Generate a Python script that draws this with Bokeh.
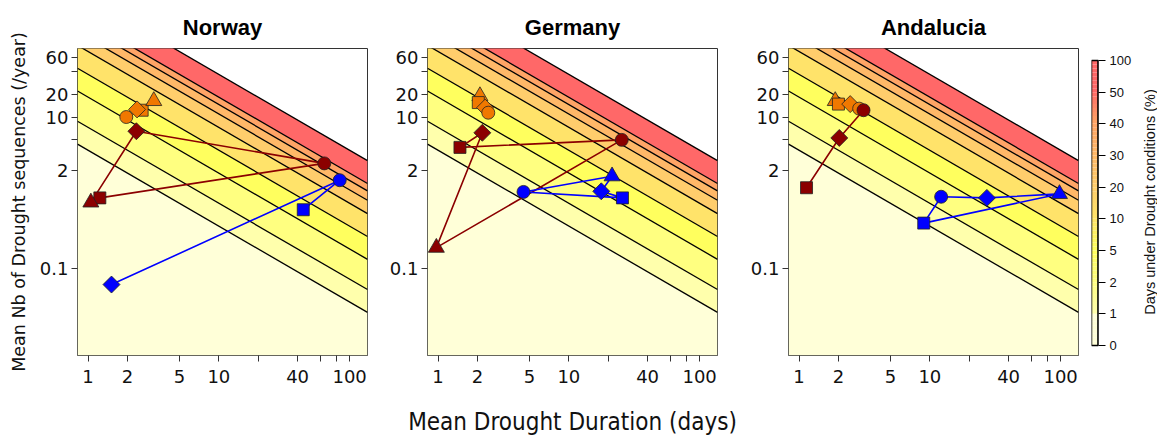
import math
from bokeh.plotting import figure
from bokeh.layouts import row
from bokeh.models import Range1d, FixedTicker, ColumnDataSource
from bokeh.core.properties import value
from bokeh.embed import file_html
from bokeh.resources import INLINE

# ---------------- data ----------------
regions = ["Norway", "Germany", "Andalucia"]
levels = [0, 1, 2, 5, 10, 20, 30, 40, 50, 100]          # % of days under drought
band_colors = ["#FFFFD8", "#FFFFAC", "#FFFF80", "#FFFF5E", "#FFE36A",
               "#FFCD6C", "#FFB868", "#FFA466", "#FF6868"]
x_ticks = [1, 2, 5, 10, 20, 40, 60, 80, 100]
x_tick_labels = ["1", "2", "5", "10", "", "40", "", "", "100"]
y_ticks = [0.1, 2, 5, 10, 20, 40, 60]
y_tick_labels = ["0.1", "2", "", "10", "20", "", "60"]
x_label = "Mean Drought Duration (days)"
y_label = "Mean Nb of Drought sequences (/year)"
cbar_title = "Days under Drought conditions (%)"

# series: points in the order they are joined
norway_orange_x = [1.96, 2.59, 2.37, 3.18]
norway_orange_y = [10.0, 12.3, 12.6, 16.3]
norway_orange_m = ["circle", "square", "diamond", "triangle"]
norway_red_x = [2.34, 64.0, 1.23, 1.05]
norway_red_y = [6.5, 2.45, 0.86, 0.75]
norway_red_m = ["diamond", "circle", "square", "triangle"]
norway_blue_x = [1.51, 84.0, 44.2]
norway_blue_y = [0.062, 1.47, 0.60]
norway_blue_m = ["diamond", "circle", "square"]

germany_orange_x = [2.09, 2.03, 2.29, 2.42]
germany_orange_y = [18.9, 15.5, 13.3, 11.4]
germany_orange_m = ["triangle", "square", "diamond", "circle"]
germany_red_x = [25.4, 1.47, 2.18, 0.97]
germany_red_y = [5.0, 3.98, 6.2, 0.19]
germany_red_m = ["circle", "square", "diamond", "triangle"]
germany_blue_x = [4.5, 25.7, 17.7, 21.4]
germany_blue_y = [1.03, 0.86, 1.05, 1.66]
germany_blue_m = ["circle", "square", "diamond", "triangle"]

andalucia_orange_x = [1.89, 2.0, 2.46, 2.88]
andalucia_orange_y = [16.3, 14.8, 14.8, 12.9]
andalucia_orange_m = ["triangle", "square", "diamond", "circle"]
andalucia_red_x = [1.14, 2.03, 3.11]
andalucia_red_y = [1.17, 5.3, 12.3]
andalucia_red_m = ["square", "diamond", "circle"]
andalucia_blue_x = [12.2, 27.3, 98.0, 8.98]
andalucia_blue_y = [0.89, 0.86, 0.97, 0.40]
andalucia_blue_m = ["circle", "diamond", "triangle", "square"]

series = {
    "Norway": [(norway_orange_x, norway_orange_y, norway_orange_m, "#F07800", False),
               (norway_red_x, norway_red_y, norway_red_m, "#8B0000", True),
               (norway_blue_x, norway_blue_y, norway_blue_m, "#0000FF", False)],
    "Germany": [(germany_orange_x, germany_orange_y, germany_orange_m, "#F07800", False),
                (germany_red_x, germany_red_y, germany_red_m, "#8B0000", True),
                (germany_blue_x, germany_blue_y, germany_blue_m, "#0000FF", True)],
    "Andalucia": [(andalucia_orange_x, andalucia_orange_y, andalucia_orange_m, "#F07800", False),
                  (andalucia_red_x, andalucia_red_y, andalucia_red_m, "#8B0000", False),
                  (andalucia_blue_x, andalucia_blue_y, andalucia_blue_m, "#0000FF", True)],
}

DAYS_PER_PCT = 365.0 / 100.0
# diamonds are drawn as squares turned by 45 degrees
marker_glyph = {"circle": "circle", "square": "square", "diamond": "square", "triangle": "triangle"}
marker_size = {"circle": 13, "square": 12, "diamond": 12, "triangle": 16}
marker_angle = {"circle": 0.0, "square": 0.0, "diamond": math.pi / 4, "triangle": 0.0}

TICK_FONT = "DejaVu Sans"
X_MIN, X_MAX = 0.83, 137.0
Y_MIN, Y_MAX = 0.0072, 80.0
TOP, FRAME_H, BOTTOM = 48, 307, 81


def make_panel(name, left_border, right_border, with_ylabel, with_xlabel):
    p = figure(x_axis_type="log", y_axis_type="log",
               x_range=Range1d(X_MIN, X_MAX), y_range=Range1d(Y_MIN, Y_MAX),
               frame_width=290, frame_height=FRAME_H,
               min_border_left=left_border, min_border_right=right_border,
               min_border_top=TOP, min_border_bottom=BOTTOM,
               output_backend="svg", toolbar_location=None, title=name)
    p.title.align = "center"
    p.title.text_font = "Liberation Sans"
    p.title.text_font_style = "bold"
    p.title.text_font_size = "22px"
    p.title.text_color = "black"
    p.title.standoff = 18
    p.grid.visible = False
    p.background_fill_color = "white"
    p.border_fill_color = "white"
    p.outline_line_color = "#333333"
    p.outline_line_width = 1

    xe = [X_MIN, X_MAX]
    for i in range(len(levels) - 1):
        lo, hi = levels[i], levels[i + 1]
        y1 = [lo * DAYS_PER_PCT / x if lo > 0 else Y_MIN for x in xe]
        y2 = [hi * DAYS_PER_PCT / x for x in xe]
        p.varea(x=xe, y1=y1, y2=y2, fill_color=band_colors[i])
    lv = levels[1:]
    p.segment(x0=[X_MIN] * len(lv), y0=[l * DAYS_PER_PCT / X_MIN for l in lv],
              x1=[X_MAX] * len(lv), y1=[l * DAYS_PER_PCT / X_MAX for l in lv],
              line_color="black", line_width=1.3)

    for xs, ys, ms, col, closed in series[name]:
        lx = xs + ([xs[0]] if closed else [])
        ly = ys + ([ys[0]] if closed else [])
        p.line(lx, ly, line_color=col, line_width=1.6)
        src = ColumnDataSource(dict(x=xs, y=ys,
                                    marker=[marker_glyph[m] for m in ms],
                                    size=[marker_size[m] for m in ms],
                                    angle=[marker_angle[m] for m in ms]))
        p.scatter(x="x", y="y", marker="marker", size="size", angle="angle", source=src,
                  fill_color=col, line_color="#222222", line_width=0.8)

    for ax, ticks, labels in ((p.xaxis, x_ticks, x_tick_labels),
                              (p.yaxis, y_ticks, y_tick_labels)):
        ax.ticker = FixedTicker(ticks=ticks, minor_ticks=[])
        ax.major_label_overrides = {t: l for t, l in zip(ticks, labels)}
        ax.major_label_text_font = TICK_FONT
        ax.major_label_text_font_size = "18px"
        ax.major_label_text_color = "#111111"
        ax.axis_line_color = None
        ax.major_tick_in = 0
        ax.major_tick_out = 6
        ax.major_tick_line_color = "#333333"
        ax.minor_tick_line_color = None
    p.xaxis.major_label_standoff = 8
    p.yaxis.major_label_standoff = 3
    if with_ylabel:
        p.yaxis.axis_label = y_label
        p.yaxis.axis_label_text_font = TICK_FONT
        p.yaxis.axis_label_text_font_style = "normal"
        p.yaxis.axis_label_text_font_size = "17.5px"
        p.yaxis.axis_label_standoff = 8
        p.yaxis.axis_label_text_color = "#111111"
    if with_xlabel:
        p.xaxis.axis_label = x_label
        p.xaxis.axis_label_text_font = "DejaVu Sans Condensed, Liberation Sans"
        p.xaxis.axis_label_text_font_style = "normal"
        p.xaxis.axis_label_text_font_size = "24px"
        p.xaxis.axis_label_standoff = 22
        p.xaxis.axis_label_text_color = "#111111"
    return p


p1 = make_panel("Norway", 77, 5, True, False)
p2 = make_panel("Germany", 55, 29, False, True)
p3 = make_panel("Andalucia", 42, 5, False, False)


def hex_to_rgb(h):
    return tuple(int(h[i:i + 2], 16) for i in (1, 3, 5))


def mix(c1, c2, t):
    a, b = hex_to_rgb(c1), hex_to_rgb(c2)
    return "#%02X%02X%02X" % tuple(round(a[k] + (b[k] - a[k]) * t) for k in range(3))


# colour bar: levels evenly spaced; its frame shares the panels' top/bottom,
# the bar itself spans a shorter part of it
n_lv = len(levels)
BAR_TOP_GAP, BAR_BOTTOM_GAP = 12, 10          # px between frame edge and bar
unit = (FRAME_H - BAR_TOP_GAP - BAR_BOTTOM_GAP) / (n_lv - 1)
cb = figure(x_range=Range1d(0, 1),
            y_range=Range1d(-BAR_BOTTOM_GAP / unit, (n_lv - 1) + BAR_TOP_GAP / unit),
            frame_width=7, frame_height=FRAME_H,
            min_border_left=8, min_border_right=42,
            min_border_top=TOP, min_border_bottom=BOTTOM,
            output_backend="svg", toolbar_location=None, title=None,
            y_axis_location="right")
steps = 8
bottoms, tops, cols = [], [], []
for i in range(n_lv - 1):
    c_next = band_colors[min(i + 1, len(band_colors) - 1)]
    for k in range(steps):
        bottoms.append(i + k / steps)
        tops.append(i + (k + 1) / steps)
        t = 0.0 if i == 0 else k / steps
        cols.append(mix(band_colors[i], c_next, t))
cb.quad(left=0, right=1, bottom=bottoms, top=tops, fill_color=cols, line_color=None)
cb.quad(left=[0], right=[1], bottom=[0], top=[n_lv - 1], fill_color=None,
        line_color="black", line_width=1.5)
cb.segment(x0=[1], y0=[0], x1=[1], y1=[n_lv - 1], line_color="black", line_width=2.5)
cb.grid.visible = False
cb.xaxis.visible = False
cb.outline_line_color = None
cb.yaxis.ticker = FixedTicker(ticks=list(range(n_lv)), minor_ticks=[])
cb.yaxis.major_label_overrides = {i: str(levels[i]) for i in range(n_lv)}
cb.yaxis.major_label_text_font = "Liberation Sans"
cb.yaxis.major_label_text_font_size = "13px"
cb.yaxis.major_label_text_color = "#111111"
cb.yaxis.major_tick_in = 0
cb.yaxis.major_tick_out = 7
cb.yaxis.major_label_standoff = 4
cb.yaxis.axis_line_color = None
cb.yaxis.major_tick_line_color = "black"
cb.yaxis.minor_tick_line_color = None

# colour-bar title (vertical text)
lf = figure(x_range=Range1d(0, 1), y_range=Range1d(0, 1),
            frame_width=17, frame_height=FRAME_H,
            min_border_left=0, min_border_right=0,
            min_border_top=TOP, min_border_bottom=BOTTOM,
            output_backend="svg", toolbar_location=None, title=None)
lf.axis.visible = False
lf.grid.visible = False
lf.outline_line_color = None
lf.text(x=[0.55], y=[0.5], text=[cbar_title], angle=math.pi / 2,
        text_align="center", text_baseline="middle",
        text_font=value("Liberation Sans"), text_font_size="14.5px", text_color="#111111")

layout = row(p1, p2, p3, cb, lf)
open("out.html", "w").write(file_html(layout, INLINE))
